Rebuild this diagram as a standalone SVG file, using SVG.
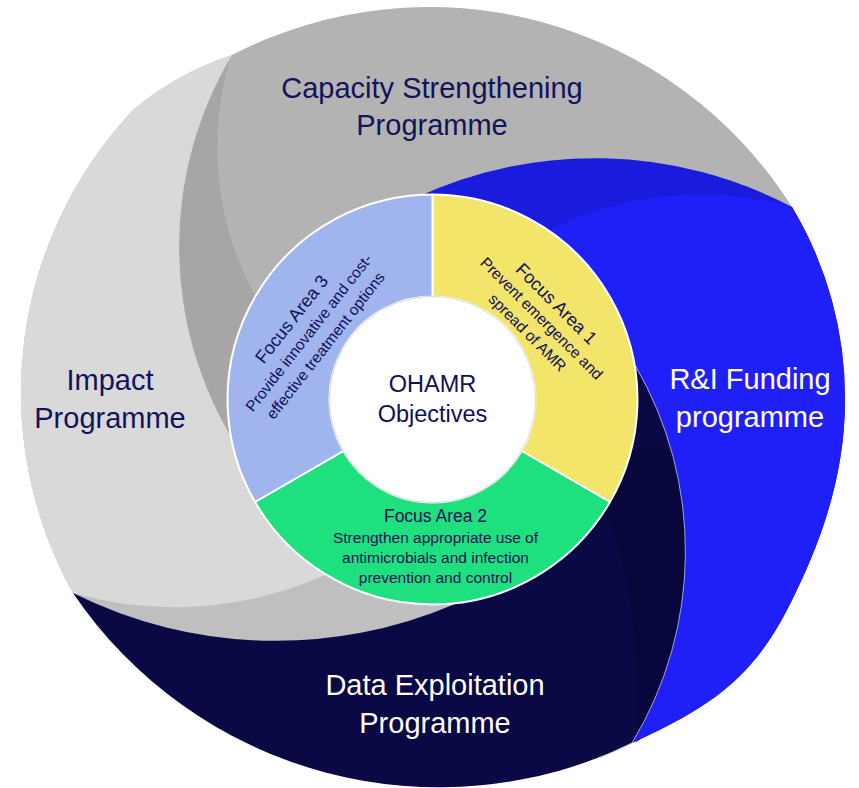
<svg xmlns="http://www.w3.org/2000/svg" width="859" height="788" viewBox="0 0 859 788">
<style>
  .lbl { font-family: "Liberation Sans", Arial, sans-serif; font-size: 29px; text-anchor: middle; }
  .dark { fill: #13135B; }
  .light { fill: #FFFFFF; }
  .fa { font-family: "Liberation Sans", Arial, sans-serif; fill: #10105A; text-anchor: middle; }
  .fah { font-size: 18px; }
  .fas { font-size: 15.5px; }
  .seg { stroke: #FFFFFF; stroke-width: 2; stroke-linejoin: round; }
</style>
<rect width="859" height="788" fill="#FFFFFF"/>

<g id="data-exploitation">
  <path d="M73,593 A442,442 0 0 0 632,743 A370,370 0 0 0 635,365 L433,400 Z" fill="#0A0845"/>
  <path d="M602,500 C628,560 642,640 636,742 L700,700 L700,450 L625,450 Z" fill="#08073D"/>
</g>

<g id="impact">
  <path d="M73,593 A454,454 0 0 0 455,604 L433,400 L232,55 A300,300 0 0 0 133,110 A412,412 0 0 0 73,593 Z" fill="#BFBFBF"/>
  <path d="M73,593 A370,370 0 0 0 325,575 L433,400 L232,55 A300,300 0 0 0 133,110 A412,412 0 0 0 73,593 Z" fill="#D9D9D9"/>
</g>

<g id="capacity">
  <path d="M232,55 A374,374 0 0 0 236,445 L300,400 L264,310 A309,309 0 0 1 232,55 Z" fill="#A6A6A6"/>
  <path d="M232,55 A429,429 0 0 1 792,207 L560,330 L433,400 L264,310 A309,309 0 0 1 232,55 Z" fill="#B3B3B3"/>
</g>

<g id="rni-funding">
  <path d="M415,198 A424,424 0 0 1 792,207 A372,372 0 0 1 845,400 C845,475 821.4,543.3 787,610 C750.3,681.1 705.8,709.4 632,743 A370,370 0 0 0 635,365 L560,330 Z" fill="#1B1BDD"/>
  <path d="M545,232 A342,342 0 0 1 792,207 A372,372 0 0 1 845,400 C845,475 821.4,543.3 787,610 C750.3,681.1 705.8,709.4 632,743 A370,370 0 0 0 635,365 L560,330 Z" fill="#1F1FF8"/>
  <path d="M600,758 L632,743 A370,370 0 0 0 635,365" fill="none" stroke="#C4C4D6" stroke-width="0.8"/>
</g>

<g id="focus-area-1">
  <path class="seg" d="M432.5,194.5 A205,205 0 0 1 610,502 L521.7,451 A103,103 0 0 0 432.5,296.5 Z" fill="#F3E46A"/>
  <g transform="translate(552,308) rotate(45)">
    <text class="fa fah" x="0" y="0">Focus Area 1</text>
    <text class="fa fas" x="0" y="20">Prevent emergence and</text>
    <text class="fa fas" x="0" y="40">spread of AMR</text>
  </g>
</g>

<g id="focus-area-2">
  <path class="seg" d="M610,502 A205,205 0 0 1 255,502 L343.3,451 A103,103 0 0 0 521.7,451 Z" fill="#1EE07F"/>
  <text class="fa" x="435.5" y="522" font-size="17.5">Focus Area 2</text>
  <text class="fa fas" x="435.5" y="543">Strengthen appropriate use of</text>
  <text class="fa fas" x="435.5" y="563">antimicrobials and infection</text>
  <text class="fa fas" x="435.5" y="583">prevention and control</text>
</g>

<g id="focus-area-3">
  <path class="seg" d="M255,502 A205,205 0 0 1 432.5,194.5 L432.5,296.5 A103,103 0 0 0 343.3,451 Z" fill="#A0B4EE"/>
  <g transform="translate(296.5,323) rotate(-52)">
    <text class="fa fah" x="0" y="0">Focus Area 3</text>
    <text class="fa fas" x="0" y="21">Provide innovative and cost-</text>
    <text class="fa fas" x="0" y="42">effective treatment options</text>
  </g>
</g>

<g id="ohamr-objectives">
  <circle cx="432.5" cy="399.5" r="103" fill="#FFFFFF" stroke="#D6D6D6" stroke-width="1"/>
  <text class="fa" x="432.5" y="392" font-size="23.5">OHAMR</text>
  <text class="fa" x="432.5" y="422" font-size="23.5">Objectives</text>
</g>

<g id="labels">
  <text class="lbl dark" x="432" y="98">Capacity Strengthening</text>
  <text class="lbl dark" x="432" y="135">Programme</text>
  <text class="lbl dark" x="110" y="390">Impact</text>
  <text class="lbl dark" x="110" y="428">Programme</text>
  <text class="lbl light" x="750" y="389">R&amp;I Funding</text>
  <text class="lbl light" x="750" y="427">programme</text>
  <text class="lbl light" x="435" y="695">Data Exploitation</text>
  <text class="lbl light" x="435" y="733">Programme</text>
</g>

<g id="connectors"></g>
</svg>
